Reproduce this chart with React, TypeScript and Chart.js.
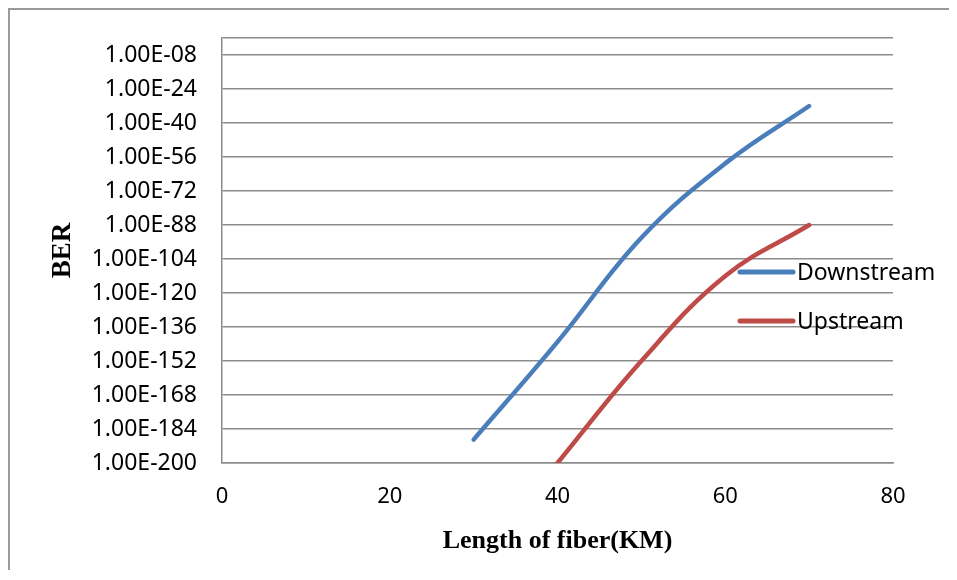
import React, { useEffect, useRef } from "react";
import { Chart, registerables } from "chart.js";

Chart.register(...registerables);

// Fiber length (km) sample positions
const downstreamLengthKm = [30, 40, 50, 60, 70];
const upstreamLengthKm = [40, 50, 60, 70];
// BER expressed as base-10 exponent (BER = 1.00E<exp>)
const downstreamBerExp = [-189, -143, -94, -59, -32];
const upstreamBerExp = [-200, -152, -112, -88];
// Y axis tick exponents (top gridline at 0 has no label)
const yTickExps = [-200, -184, -168, -152, -136, -120, -104, -88, -72, -56, -40, -24, -8, 0];
const xTicks = [0, 20, 40, 60, 80];

const seriesNames = ["Downstream", "Upstream"];
const seriesColors = ["#4A7EBB", "#BE4B48"];

const fmtExp = (v: number) => {
  const a = Math.abs(Math.round(v));
  return "1.00E-" + (a < 10 ? "0" + a : String(a));
};

const legendPlugin = {
  id: "customLegend",
  afterDraw(chart: any) {
    const { ctx, chartArea } = chart;
    const x0 = chartArea.right - 155;
    const ys = [262, 311];
    ctx.save();
    seriesNames.forEach((name, i) => {
      ctx.strokeStyle = seriesColors[i];
      ctx.lineWidth = 5;
      ctx.lineCap = "round";
      ctx.beginPath();
      ctx.moveTo(x0 + 2, ys[i]);
      ctx.lineTo(x0 + 55, ys[i]);
      ctx.stroke();
      ctx.fillStyle = "#000";
      ctx.font = "23px 'Noto Sans'";
      ctx.textBaseline = "middle";
      ctx.textAlign = "left";
      ctx.fillText(name, x0 + 59, ys[i] + 1);
    });
    ctx.restore();
  },
};

export default function App() {
  const ref = useRef<HTMLCanvasElement | null>(null);
  useEffect(() => {
    if (!ref.current) return;
    const gridColor = "#8c8c8c";
    const chart = new Chart(ref.current, {
      type: "line",
      data: {
        datasets: [
          {
            label: seriesNames[0],
            data: downstreamLengthKm.map((x, i) => ({ x, y: downstreamBerExp[i] })),
            borderColor: seriesColors[0],
            backgroundColor: seriesColors[0],
            borderWidth: 4.5,
            borderCapStyle: "round",
            pointRadius: 0,
            tension: 0.4,
            fill: false,
          },
          {
            label: seriesNames[1],
            data: upstreamLengthKm.map((x, i) => ({ x, y: upstreamBerExp[i] })),
            borderColor: seriesColors[1],
            backgroundColor: seriesColors[1],
            borderWidth: 4.5,
            borderCapStyle: "round",
            pointRadius: 0,
            tension: 0.4,
            fill: false,
          },
        ],
      },
      options: {
        animation: false,
        responsive: false,
        events: [],
        layout: { padding: { left: 0, top: 28, right: 56, bottom: 0 } },
        plugins: { legend: { display: false }, tooltip: { enabled: false } },
        scales: {
          x: {
            type: "linear",
            min: 0,
            max: 80,
            afterBuildTicks: (s: any) => {
              s.ticks = xTicks.map((v) => ({ value: v }));
            },
            afterFit: (s: any) => {
              s.height = 107;
            },
            grid: { display: false, drawTicks: false },
            border: { display: true, color: gridColor, width: 1.5 },
            ticks: {
              padding: 21,
              color: "#000",
              font: { family: "'Noto Sans'", size: 22 },
              maxRotation: 0,
              autoSkip: false,
            },
            title: {
              display: true,
              text: "Length of fiber(KM)",
              color: "#000",
              font: { family: "'Liberation Serif'", size: 26, weight: "bold" },
              padding: { top: 0, bottom: 13 },
            },
          },
          y: {
            type: "linear",
            min: -200,
            max: 0,
            afterBuildTicks: (s: any) => {
              s.ticks = yTickExps.map((v) => ({ value: v }));
            },
            afterFit: (s: any) => {
              s.width = 212;
              s.paddingTop = 0;
              s.paddingBottom = 0;
            },
            grid: { color: gridColor, lineWidth: 1.5, drawTicks: false },
            border: { display: true, color: gridColor, width: 1.5 },
            ticks: {
              padding: 25,
              color: "#000",
              autoSkip: false,
              font: { family: "'Noto Sans'", size: 23 },
              callback: (v: any) => (Number(v) === 0 ? "" : fmtExp(Number(v))),
            },
            title: {
              display: true,
              text: "BER",
              color: "#000",
              font: { family: "'Liberation Serif'", size: 27, weight: "bold" },
              padding: { top: 37, bottom: 0 },
            },
          },
        },
      } as any,
      plugins: [legendPlugin],
    });
    return () => chart.destroy();
  }, []);

  return (
    <div
      style={{
        width: 941,
        height: 562,
        boxSizing: "border-box",
        borderTop: "2px solid #9a9a9a",
        borderLeft: "2px solid #9a9a9a",
        background: "#fff",
      }}
    >
      <canvas ref={ref} width={939} height={560} style={{ display: "block" }} />
    </div>
  );
}
